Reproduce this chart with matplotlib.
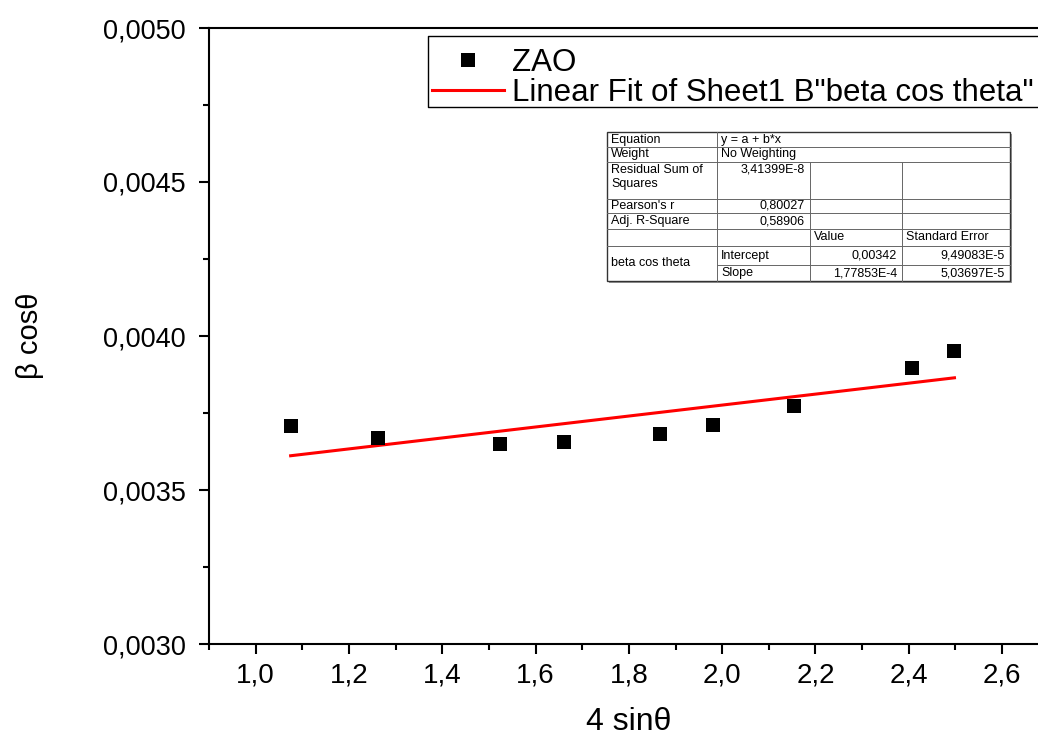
import numpy as np
import matplotlib
matplotlib.use('Agg')
import matplotlib.pyplot as plt
from matplotlib.ticker import MultipleLocator, FuncFormatter
from matplotlib.lines import Line2D
from matplotlib.patches import Rectangle

# measured points
four_sin_theta = [1.075, 1.262, 1.523, 1.660, 1.866, 1.980, 2.155, 2.406, 2.498]
beta_cos_theta = [0.003708, 0.003669, 0.003649, 0.003656, 0.003682,
                  0.003711, 0.003773, 0.003896, 0.003951]

# linear fit results y = a + b*x
fit_intercept = 0.00342
fit_slope = 1.77853e-4

# fit report table
stat_labels = ['Equation', 'Weight', 'Residual Sum of\nSquares', "Pearson's r", 'Adj. R-Square']
stat_values = ['y = a + b*x', 'No Weighting', '3,41399E-8', '0,80027', '0,58906']
param_names = ['Intercept', 'Slope']
param_values = ['0,00342', '1,77853E-4']
param_errors = ['9,49083E-5', '5,03697E-5']

W, H = 1038, 735
plt.rcParams['font.family'] = ['Liberation Sans', 'DejaVu Sans']

fig = plt.figure(figsize=(W / 100, H / 100), dpi=100)


def fx(px):
    return px / W


def fy(py):
    return 1 - py / H


ax = fig.add_axes([fx(209), fy(644), 839.7 / W, 616 / H])
ax.set_xlim(0.9, 2.7)
ax.set_ylim(0.0030, 0.0050)
ax.set_autoscale_on(False)

ax.plot(four_sin_theta, beta_cos_theta, 's', color='black', markersize=10.5,
        markeredgewidth=0, label='ZAO', zorder=3)
xf = np.array([min(four_sin_theta), max(four_sin_theta)])
ax.plot(xf, fit_intercept + fit_slope * xf, color='red', lw=2.2,
        label='Linear Fit of Sheet1 B"beta cos theta"', zorder=2)

for s in ['left', 'bottom', 'top', 'right']:
    ax.spines[s].set_linewidth(1.5)

ax.xaxis.set_major_locator(MultipleLocator(0.2))
ax.xaxis.set_minor_locator(MultipleLocator(0.1))
ax.yaxis.set_major_locator(MultipleLocator(0.0005))
ax.yaxis.set_minor_locator(MultipleLocator(0.00025))
ax.xaxis.set_major_formatter(FuncFormatter(lambda v, p: f'{v:.1f}'.replace('.', ',')))
ax.yaxis.set_major_formatter(FuncFormatter(lambda v, p: f'{v:.4f}'.replace('.', ',')))
ax.tick_params(which='major', direction='out', length=7.5, width=1.5, top=False, right=False)
ax.tick_params(which='minor', direction='out', length=4, width=1.5, top=False, right=False)
ax.tick_params(axis='y', labelsize=19.5, pad=9)
ax.tick_params(axis='x', labelsize=20, pad=6)

ax.set_xlabel('4 sinθ', fontsize=23)
ax.set_ylabel('β cosθ', fontsize=21)
ax.xaxis.set_label_coords(fx(629), fy(707), transform=fig.transFigure)
ax.yaxis.set_label_coords(fx(44), fy(336), transform=fig.transFigure)

# legend frame is open on the right, it runs off the edge of the figure
ax.add_patch(Rectangle((fx(428), fy(107)), fx(1038 - 428), (107 - 36) / H,
                       transform=fig.transFigure, facecolor='white',
                       edgecolor='none', zorder=4, clip_on=False))
ax.add_line(Line2D([fx(1038), fx(428), fx(428), fx(1038)],
                   [fy(36), fy(36), fy(107), fy(107)], transform=fig.transFigure,
                   color='black', lw=1.0, zorder=4.5, clip_on=False))
leg = ax.legend(loc='upper left', bbox_to_anchor=(fx(432), fy(48)),
                bbox_transform=fig.transFigure, fontsize=22.5, frameon=False,
                borderaxespad=0, borderpad=0.0, handlelength=2.3,
                handletextpad=0.26, labelspacing=0.0, numpoints=1)
leg.set_zorder(6)

# fit report table, drawn in pixel positions
cols = [607, 717, 810, 902, 1010]
rows = [132, 147, 162, 199, 213, 229, 246, 265, 281]
tfs = 9.0
fig.add_artist(Rectangle((fx(cols[0] + 2), fy(rows[-1] + 2)), fx(cols[-1] - cols[0]),
                         (rows[-1] - rows[0]) / H, transform=fig.transFigure,
                         facecolor='#9a9a9a', edgecolor='none', zorder=4))
fig.add_artist(Rectangle((fx(cols[0]), fy(rows[-1])), fx(cols[-1] - cols[0]),
                         (rows[-1] - rows[0]) / H, transform=fig.transFigure,
                         facecolor='white', edgecolor='#333333', lw=1.0, zorder=5))


def hline(y, x0, x1):
    fig.add_artist(Line2D([fx(x0), fx(x1)], [fy(y), fy(y)], transform=fig.transFigure,
                          color='#666666', lw=0.7, zorder=6))


def vline(x, y0, y1):
    fig.add_artist(Line2D([fx(x), fx(x)], [fy(y0), fy(y1)], transform=fig.transFigure,
                          color='#666666', lw=0.7, zorder=6))


def cell_text(s, x, y, ha='left'):
    fig.text(fx(x), fy(y), s, fontsize=tfs, ha=ha, va='center', zorder=7,
             linespacing=1.15)


for r in rows[1:7]:
    hline(r, cols[0], cols[-1])
hline(rows[7], cols[1], cols[-1])
vline(cols[1], rows[0], rows[-1])
vline(cols[2], rows[2], rows[-1])
vline(cols[3], rows[2], rows[-1])

for i, (lab, val) in enumerate(zip(stat_labels, stat_values)):
    yc = (rows[i] + rows[i + 1]) / 2
    if i == 2:
        fig.text(fx(cols[0] + 4), fy(rows[i] + 2), lab, fontsize=tfs, ha='left',
                 va='top', zorder=7, linespacing=1.25)
        fig.text(fx(cols[2] - 5), fy(rows[i] + 2), val, fontsize=tfs, ha='right',
                 va='top', zorder=7)
        continue
    cell_text(lab, cols[0] + 4, yc)
    if i < 2:
        cell_text(val, cols[1] + 4, yc)
    else:
        cell_text(val, cols[2] - 5, yc, ha='right')
yh = (rows[5] + rows[6]) / 2
cell_text('Value', cols[2] + 4, yh)
cell_text('Standard Error', cols[3] + 4, yh)
cell_text('beta cos theta', cols[0] + 4, (rows[6] + rows[8]) / 2)
for j in range(2):
    yc = (rows[6 + j] + rows[7 + j]) / 2
    cell_text(param_names[j], cols[1] + 4, yc)
    cell_text(param_values[j], cols[3] - 5, yc, ha='right')
    cell_text(param_errors[j], cols[4] - 5, yc, ha='right')

fig.savefig('out.png', dpi=100)
